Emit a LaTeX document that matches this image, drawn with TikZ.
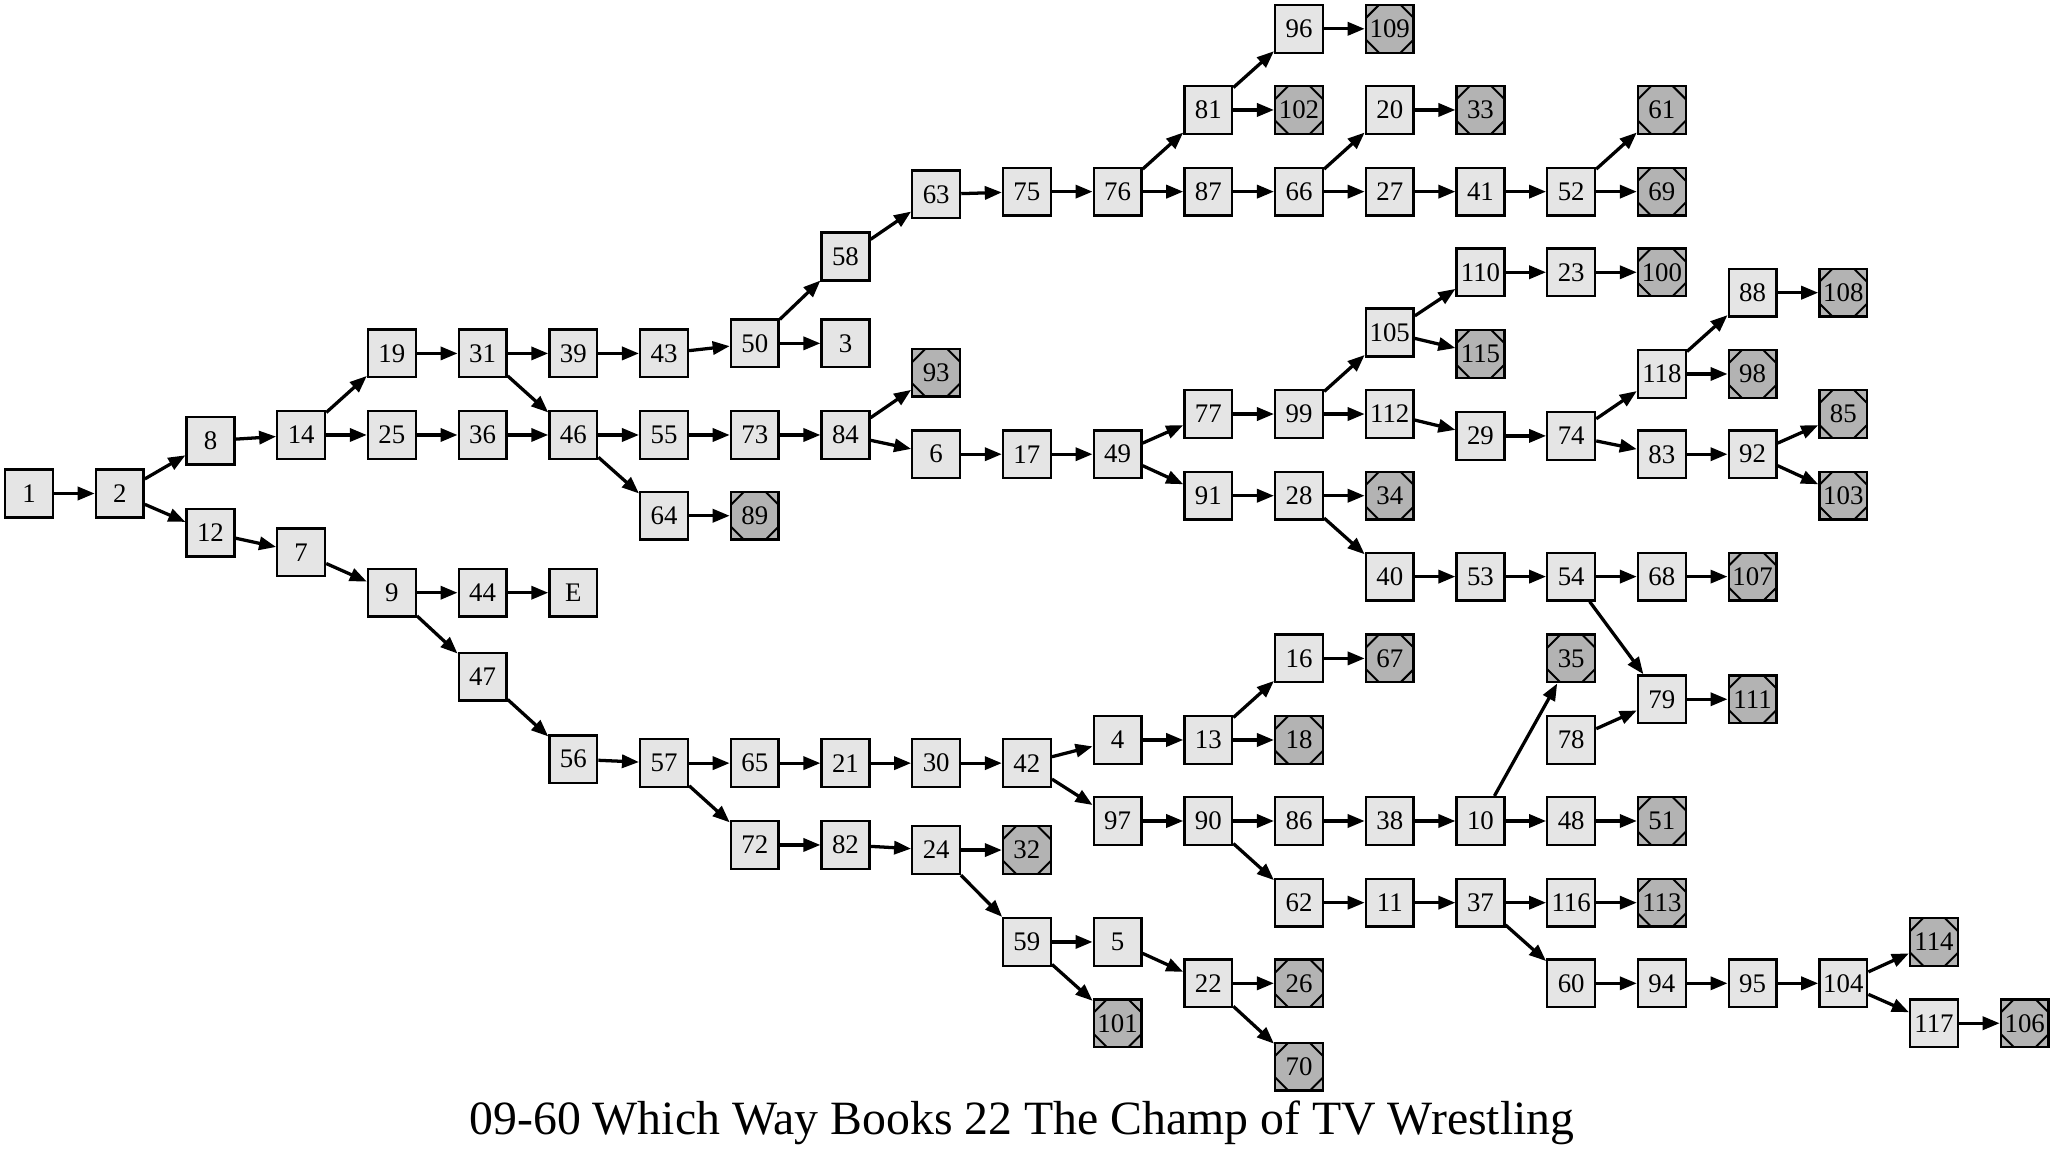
\documentclass[tikz,border=0pt]{standalone}
\usepackage{fontspec}
\setmainfont{Liberation Serif}
\usetikzlibrary{arrows.meta}
\definecolor{lightfill}{RGB}{229,229,229}
\definecolor{darkfill}{RGB}{179,179,179}
\tikzset{
  pg/.style={draw=black, line width=1.8pt, fill=lightfill, minimum size=36.5pt, inner sep=0pt,
    font=\fontsize{20.5}{20.5}\selectfont},
  ms/.style={pg, fill=darkfill,
    path picture={
      \draw[line width=1.5pt] ([yshift=-10pt]path picture bounding box.north west) -- ([xshift=10pt]path picture bounding box.north west);
      \draw[line width=1.5pt] ([yshift=-10pt]path picture bounding box.north east) -- ([xshift=-10pt]path picture bounding box.north east);
      \draw[line width=1.5pt] ([yshift=10pt]path picture bounding box.south west) -- ([xshift=10pt]path picture bounding box.south west);
      \draw[line width=1.5pt] ([yshift=10pt]path picture bounding box.south east) -- ([xshift=-10pt]path picture bounding box.south east);
    }},
  ed/.style={draw=black, line width=2.5pt, -{Triangle[length=13pt,width=10pt]}},
  titlefont/.style={font=\fontsize{36.5}{36.5}\selectfont}
}
\begin{document}
\begin{tikzpicture}[x=69.3pt,y=-1pt]
\useasboundingbox (-0.3203,0) rectangle (22.3117,880.6);
\node[pg] (n1) at (0,377) {1};
\node[pg] (n2) at (1,377) {2};
\node[pg] (n8) at (2,336.7) {8};
\node[pg] (n12) at (2,407) {12};
\node[pg] (n14) at (3,332.3) {14};
\node[pg] (n7) at (3,422) {7};
\node[pg] (n19) at (4,270) {19};
\node[pg] (n25) at (4,332.3) {25};
\node[pg] (n9) at (4,452.8) {9};
\node[pg] (n31) at (5,270) {31};
\node[pg] (n36) at (5,332.3) {36};
\node[pg] (n44) at (5,452.8) {44};
\node[pg] (n47) at (5,517) {47};
\node[pg] (n39) at (6,270) {39};
\node[pg] (n46) at (6,332.3) {46};
\node[pg] (nE) at (6,452.8) {E};
\node[pg] (n56) at (6,580) {56};
\node[pg] (n43) at (7,270) {43};
\node[pg] (n55) at (7,332.3) {55};
\node[pg] (n64) at (7,394) {64};
\node[pg] (n57) at (7,583) {57};
\node[pg] (n50) at (8,262.3) {50};
\node[pg] (n73) at (8,332.3) {73};
\node[ms] (n89) at (8,394) {89};
\node[pg] (n65) at (8,583) {65};
\node[pg] (n72) at (8,645.5) {72};
\node[pg] (n58) at (9,196) {58};
\node[pg] (n3) at (9,262.3) {3};
\node[pg] (n84) at (9,332.3) {84};
\node[pg] (n21) at (9,583) {21};
\node[pg] (n82) at (9,645.5) {82};
\node[pg] (n63) at (10,148.5) {63};
\node[ms] (n93) at (10,284.7) {93};
\node[pg] (n6) at (10,347) {6};
\node[pg] (n30) at (10,583) {30};
\node[pg] (n24) at (10,649.4) {24};
\node[pg] (n75) at (11,146.4) {75};
\node[pg] (n17) at (11,347) {17};
\node[pg] (n42) at (11,583) {42};
\node[ms] (n32) at (11,649.4) {32};
\node[pg] (n59) at (11,719.6) {59};
\node[pg] (n76) at (12,146.4) {76};
\node[pg] (n49) at (12,347) {49};
\node[pg] (n4) at (12,565.3) {4};
\node[pg] (n97) at (12,627.2) {97};
\node[pg] (n5) at (12,719.6) {5};
\node[ms] (n101) at (12,781.7) {101};
\node[pg] (n81) at (13,84) {81};
\node[pg] (n87) at (13,146.4) {87};
\node[pg] (n77) at (13,316.3) {77};
\node[pg] (n91) at (13,378.7) {91};
\node[pg] (n13) at (13,565.3) {13};
\node[pg] (n90) at (13,627.2) {90};
\node[pg] (n22) at (13,751.2) {22};
\node[pg] (n96) at (14,22) {96};
\node[ms] (n102) at (14,84) {102};
\node[pg] (n66) at (14,146.4) {66};
\node[pg] (n99) at (14,316.3) {99};
\node[pg] (n28) at (14,378.7) {28};
\node[pg] (n16) at (14,503) {16};
\node[ms] (n18) at (14,565.3) {18};
\node[pg] (n86) at (14,627.2) {86};
\node[pg] (n62) at (14,689.6) {62};
\node[ms] (n26) at (14,751.2) {26};
\node[ms] (n70) at (14,814.9) {70};
\node[ms] (n109) at (15,22) {109};
\node[pg] (n20) at (15,84) {20};
\node[pg] (n27) at (15,146.4) {27};
\node[pg] (n105) at (15,254) {105};
\node[pg] (n112) at (15,316.3) {112};
\node[ms] (n34) at (15,378.7) {34};
\node[pg] (n40) at (15,440.5) {40};
\node[ms] (n67) at (15,503) {67};
\node[pg] (n38) at (15,627.2) {38};
\node[pg] (n11) at (15,689.6) {11};
\node[ms] (n33) at (16,84) {33};
\node[pg] (n41) at (16,146.4) {41};
\node[pg] (n110) at (16,208) {110};
\node[ms] (n115) at (16,270.4) {115};
\node[pg] (n29) at (16,333) {29};
\node[pg] (n53) at (16,440.5) {53};
\node[pg] (n10) at (16,627.2) {10};
\node[pg] (n37) at (16,689.6) {37};
\node[pg] (n52) at (17,146.4) {52};
\node[pg] (n23) at (17,208) {23};
\node[pg] (n74) at (17,333) {74};
\node[pg] (n54) at (17,440.5) {54};
\node[ms] (n35) at (17,503) {35};
\node[pg] (n78) at (17,565.3) {78};
\node[pg] (n48) at (17,627.2) {48};
\node[pg] (n116) at (17,689.6) {116};
\node[pg] (n60) at (17,751.2) {60};
\node[ms] (n61) at (18,84) {61};
\node[ms] (n69) at (18,146.4) {69};
\node[ms] (n100) at (18,208) {100};
\node[pg] (n118) at (18,285.7) {118};
\node[pg] (n83) at (18,347) {83};
\node[pg] (n68) at (18,440.5) {68};
\node[pg] (n79) at (18,534.2) {79};
\node[ms] (n51) at (18,627.2) {51};
\node[ms] (n113) at (18,689.6) {113};
\node[pg] (n94) at (18,751.2) {94};
\node[pg] (n88) at (19,223.6) {88};
\node[ms] (n98) at (19,285.7) {98};
\node[pg] (n92) at (19,347) {92};
\node[ms] (n107) at (19,440.5) {107};
\node[ms] (n111) at (19,534.2) {111};
\node[pg] (n95) at (19,751.2) {95};
\node[ms] (n108) at (20,223.6) {108};
\node[ms] (n85) at (20,316.3) {85};
\node[ms] (n103) at (20,378.7) {103};
\node[pg] (n104) at (20,751.2) {104};
\node[ms] (n114) at (21,719.6) {114};
\node[pg] (n117) at (21,781.7) {117};
\node[ms] (n106) at (22,781.7) {106};
\foreach \a/\b in {1/2,2/8,2/12,8/14,12/7,14/19,14/25,19/31,25/36,31/39,31/46,36/46,39/43,43/50,46/55,46/64,
  50/58,50/3,55/73,64/89,73/84,84/93,84/6,58/63,63/75,75/76,76/81,76/87,81/96,81/102,96/109,87/66,66/20,66/27,
  20/33,27/41,41/52,52/61,52/69,6/17,17/49,49/77,49/91,77/99,99/105,99/112,105/110,105/115,110/23,23/100,
  112/29,29/74,74/118,74/83,118/88,118/98,88/108,83/92,92/85,92/103,91/28,28/34,28/40,40/53,53/54,54/68,
  54/79,68/107,79/111,78/79,7/9,9/44,44/E,9/47,47/56,56/57,57/65,57/72,65/21,21/30,30/42,42/4,42/97,4/13,
  13/16,13/18,16/67,97/90,90/86,90/62,86/38,38/10,10/35,10/48,48/51,62/11,11/37,37/116,37/60,116/113,
  60/94,94/95,95/104,104/114,104/117,117/106,72/82,82/24,24/32,24/59,59/5,59/101,5/22,22/26,22/70}
  \draw[ed] (n\a) -- (n\b);
\node[titlefont, anchor=center, inner sep=0pt] (title) at (10.945,857.6) {09-60 Which Way Books 22 The Champ of TV Wrestling};
\end{tikzpicture}
\end{document}
